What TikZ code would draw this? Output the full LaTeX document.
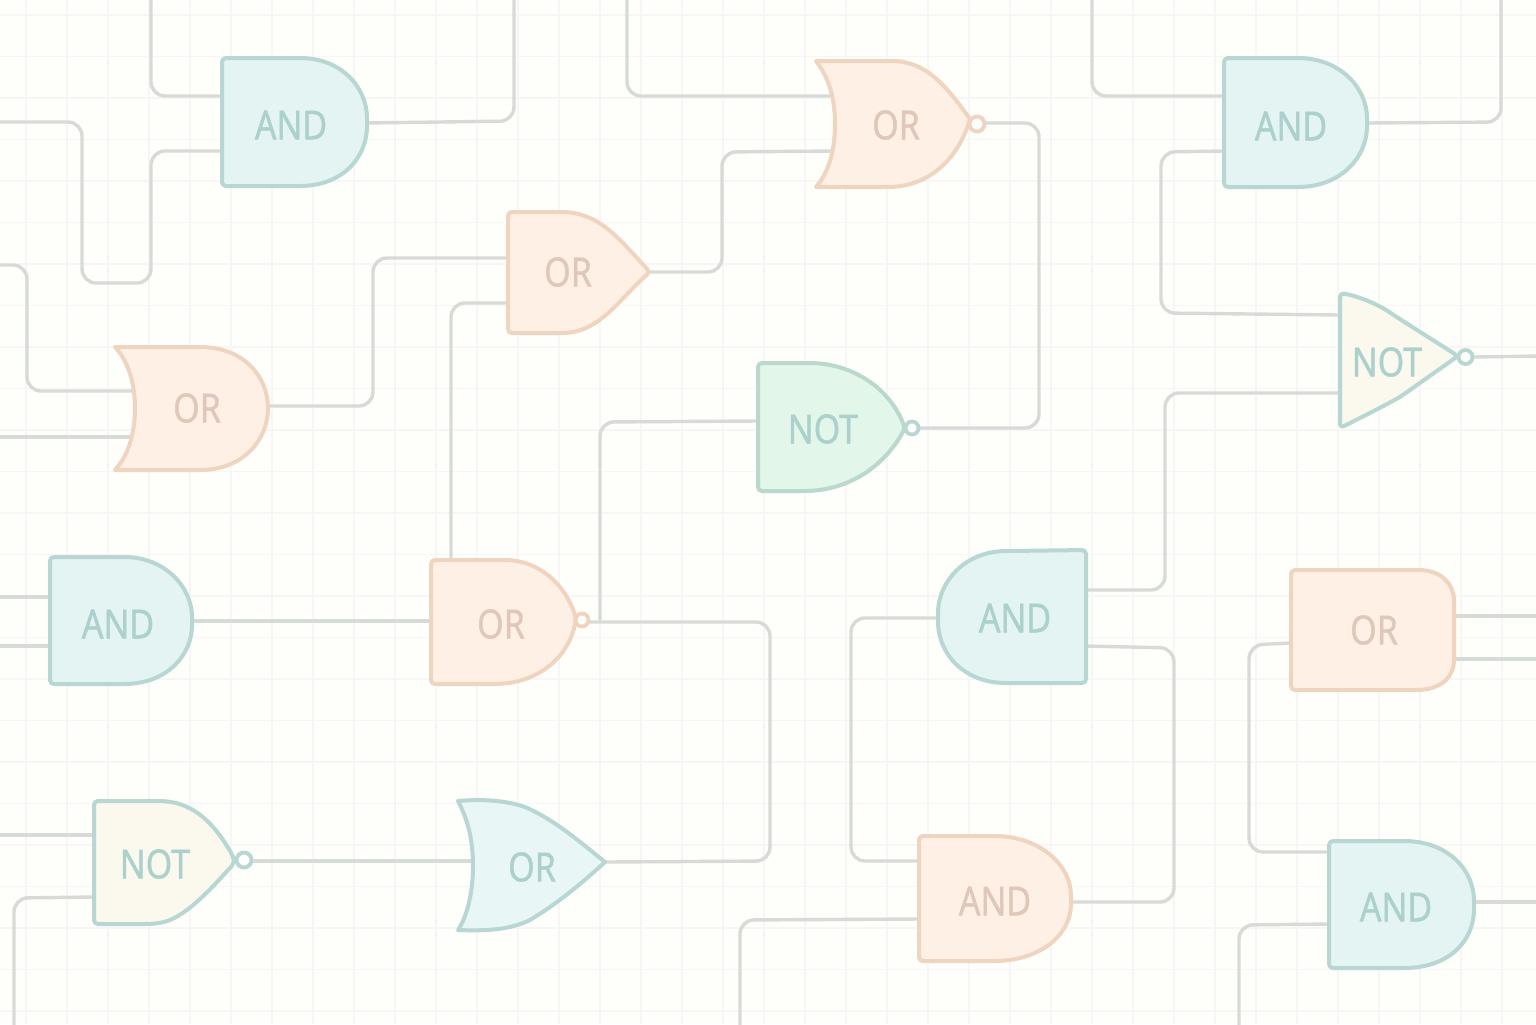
\documentclass[tikz,border=0pt]{standalone}
\usepackage{fontspec}
\setmainfont[FakeStretch=0.85,FakeBold=1]{Noto Sans}
\definecolor{bgc}{HTML}{FEFEFA}
\definecolor{gridc}{HTML}{F8F5F9}
\definecolor{wirec}{HTML}{D7DBD8}
\definecolor{tealf}{HTML}{E3F4F2}
\definecolor{teals}{HTML}{B8D7D3}
\definecolor{peachf}{HTML}{FFF0E6}
\definecolor{peachs}{HTML}{EFD4C0}
\definecolor{creamf}{HTML}{FBF8EE}
\definecolor{greenf}{HTML}{E2F6EA}
\definecolor{greens}{HTML}{BAD8CE}
\definecolor{bluef}{HTML}{E8F6F5}
\definecolor{tealt}{HTML}{ACD1CD}
\definecolor{peacht}{HTML}{DFC8BA}
\tikzset{
  wire/.style={draw=wirec,line width=1.7pt,rounded corners=7pt,line cap=round},
  gridline/.style={draw=gridc,line width=0.55pt},
  gatebase/.style={line width=2pt,rounded corners=2pt,line join=round},
  gteal/.style={gatebase,fill=tealf,draw=teals},
  gpeach/.style={gatebase,fill=peachf,draw=peachs},
  gcream/.style={gatebase,fill=creamf,draw=teals},
  ggreen/.style={gatebase,fill=greenf,draw=greens},
  gblue/.style={gatebase,fill=bluef,draw=teals},
  bubp/.style={line width=1.9pt,fill=bgc,draw=peachs},
  bubt/.style={line width=1.9pt,fill=bgc,draw=teals},
  labt/.style={text=tealt,font=\fontsize{20}{24}\selectfont,inner sep=0pt},
  labp/.style={text=peacht,font=\fontsize{20}{24}\selectfont,inner sep=0pt},
}
\begin{document}
\begin{tikzpicture}[x=0.5pt,y=-0.5pt]
\useasboundingbox (0,0) rectangle (1536,1024);
\fill[bgc] (0,0) rectangle (1536,1024);
% grid
\foreach \k in {0,...,36} \draw[gridline] ({26+41*\k},0) -- ({26+41*\k},1024);
\foreach \k in {0,...,24} \draw[gridline] (0,{15+41.5*\k}) -- (1536,{15+41.5*\k});
% ports
\coordinate (t1) at (151,-4);
\coordinate (t2) at (514,-4);
\coordinate (t3) at (627,-4);
\coordinate (t4) at (1092,-4);
\coordinate (t5) at (1501,-4);
\coordinate (l1) at (-4,122);
\coordinate (l2) at (-4,265);
\coordinate (l3) at (-4,437);
\coordinate (l4) at (-4,597);
\coordinate (l5) at (-4,646);
\coordinate (l6) at (-4,835);
\coordinate (b1) at (14,1028);
\coordinate (b2) at (740,1028);
\coordinate (b3) at (1239,1028);
\coordinate (r1) at (1540,356);
\coordinate (r2) at (1540,616);
\coordinate (r3) at (1540,659);
\coordinate (r4) at (1540,902);
\coordinate (a1a) at (222,96);
\coordinate (a1b) at (222,151);
\coordinate (a1o) at (367,123);
\coordinate (o2a) at (835,96);
\coordinate (o2b) at (835,151);
\coordinate (o2o) at (985,123);
\coordinate (a3a) at (1224,96);
\coordinate (a3b) at (1224,151);
\coordinate (a3o) at (1367,123);
\coordinate (o4a) at (508,258);
\coordinate (o4b) at (508,303);
\coordinate (o4o) at (650,272);
\coordinate (o5a) at (133,391);
\coordinate (o5b) at (133,437);
\coordinate (o5o) at (268,406);
\coordinate (n6a) at (758,421);
\coordinate (n6o) at (919,428);
\coordinate (n7a) at (1340,315);
\coordinate (n7b) at (1340,393);
\coordinate (n7o) at (1473,357);
\coordinate (a8a) at (50,597);
\coordinate (a8b) at (50,646);
\coordinate (a8o) at (192,621);
\coordinate (o9a) at (431,621);
\coordinate (o9t) at (451,560);
\coordinate (o9u) at (600,620);
\coordinate (o9o) at (590,622);
\coordinate (a10a) at (938,618);
\coordinate (a10o) at (1086,590);
\coordinate (a10p) at (1086,646);
\coordinate (o11a) at (1291,643);
\coordinate (o11o) at (1454,616);
\coordinate (o11p) at (1454,659);
\coordinate (n12a) at (94,835);
\coordinate (n12b) at (94,897);
\coordinate (n12o) at (252,861);
\coordinate (o13a) at (472,861);
\coordinate (o13o) at (605,862);
\coordinate (a14a) at (919,861);
\coordinate (a14b) at (919,919);
\coordinate (a14o) at (1071,902);
\coordinate (a15a) at (1329,852);
\coordinate (a15b) at (1329,924);
\coordinate (a15o) at (1474,902);
% connectors
\draw[wire] (t1) -- (151,96) -- (a1a);
\draw[wire] (l1) -- (82,122) -- (82,283) -- (151,283) -- (151,151) -- (a1b);
\draw[wire] (a1o) -- (514,121) -- (t2);
\draw[wire] (t3) -- (627,96) -- (o2a);
\draw[wire] (o4o) -- (722,272) -- (722,152) -- (o2b);
\draw[wire] (o2o) -- (1039,123) -- (1039,428) -- (n6o);
\draw[wire] (t4) -- (1092,96) -- (a3a);
\draw[wire] (a3o) -- (1501,122) -- (t5);
\draw[wire] (a3b) -- (1161,152) -- (1161,313) -- (n7a);
\draw[wire] (n7b) -- (1165,393) -- (1165,590) -- (a10o);
\draw[wire] (n7o) -- (r1);
\draw[wire] (l2) -- (27,265) -- (27,391) -- (o5a);
\draw[wire] (l3) -- (o5b);
\draw[wire] (o5o) -- (373,406) -- (373,258) -- (o4a);
\draw[wire] (o4b) -- (451,303) -- (o9t);
\draw[wire] (n6a) -- (600,422) -- (o9u);
\draw[wire] (l4) -- (a8a);
\draw[wire] (l5) -- (a8b);
\draw[wire] (a8o) -- (o9a);
\draw[wire] (o9o) -- (770,622) -- (770,861) -- (o13o);
\draw[wire] (a10a) -- (851,618) -- (851,861) -- (a14a);
\draw[wire] (a10p) -- (1174,648) -- (1174,902) -- (a14o);
\draw[wire] (o11o) -- (r2);
\draw[wire] (o11p) -- (r3);
\draw[wire] (o11a) -- (1249,645) -- (1249,852) -- (a15a);
\draw[wire] (a15b) -- (1239,925) -- (b3);
\draw[wire] (a15o) -- (r4);
\draw[wire] (l6) -- (n12a);
\draw[wire] (n12b) -- (14,898) -- (b1);
\draw[wire] (n12o) -- (o13a);
\draw[wire] (a14b) -- (740,920) -- (b2);
% gates
\draw[gteal] (222,58) -- (296,58) .. controls (342,58) and (367,88) .. (367,122) .. controls (367,158) and (342,186) .. (296,186) -- (222,186) -- cycle;
\draw[bubp] (977,124) circle (7.5);
\draw[gpeach,sharp corners] (816,61) -- (892,61) .. controls (925,61) and (945,84) .. (970,119) .. controls (958,160) and (928,187) .. (888,187) -- (816,187) .. controls (829,172) and (835,150) .. (835,124) .. controls (835,98) and (829,78) .. (816,61) -- cycle;
\draw[gteal] (1224,58) -- (1294,58) .. controls (1340,58) and (1367,88) .. (1367,122) .. controls (1367,158) and (1340,187) .. (1294,187) -- (1224,187) -- cycle;
\draw[gpeach] (508,212) -- (560,212) .. controls (600,213) and (620,240) .. (650,272) .. controls (620,298) and (600,333) .. (558,333) -- (508,333) -- cycle;
\draw[gpeach,sharp corners] (115,347) -- (200,347) .. controls (245,347) and (268,378) .. (268,408) .. controls (268,440) and (243,470) .. (200,470) -- (115,470) .. controls (129,455) and (135,432) .. (135,408) .. controls (135,385) and (129,362) .. (115,347) -- cycle;
\draw[bubt] (912,428) circle (6.5);
\draw[ggreen] (758,363) -- (812,363) .. controls (850,365) and (888,385) .. (905,428) .. controls (885,465) and (850,491) .. (800,491) -- (758,491) -- cycle;
\draw[bubt] (1465.5,357) circle (7);
\draw[gcream] (1340,293) .. controls (1358,296) and (1378,304) .. (1395,316) -- (1458,356) -- (1400,397) .. controls (1380,408) and (1360,418) .. (1340,428) -- cycle;
\draw[gteal] (50,557) -- (120,557) .. controls (166,557) and (192,588) .. (192,621) .. controls (192,656) and (166,684) .. (120,684) -- (50,684) -- cycle;
\draw[bubp] (582,620) circle (6.5);
\draw[gpeach] (431,560) -- (500,560) .. controls (540,560) and (565,585) .. (576,618) .. controls (570,655) and (540,684) .. (490,684) -- (431,684) -- cycle;
\draw[gteal] (1086,550) -- (1010,551) .. controls (965,551) and (938,582) .. (938,617) .. controls (938,655) and (965,683) .. (1010,683) -- (1086,683) -- cycle;
\draw[gpeach] (1291,570) -- (1415,570) .. controls (1442,570) and (1454,585) .. (1454,605) -- (1454,655) .. controls (1454,678) and (1440,690) .. (1412,690) -- (1291,690) -- cycle;
\draw[bubt] (244,860) circle (7.5);
\draw[gcream] (94,801) -- (160,801) .. controls (195,803) and (215,825) .. (233,856) .. controls (234,862) and (232,866) .. (228,870) .. controls (210,890) and (195,905) .. (178,916) .. controls (165,923) and (155,924) .. (140,924) -- (94,924) -- cycle;
\draw[gblue,sharp corners] (458,801) .. controls (480,799) and (505,800) .. (525,807) .. controls (555,820) and (580,842) .. (605,862) .. controls (580,885) and (555,905) .. (530,920) .. controls (510,930) and (485,931) .. (458,930) .. controls (468,915) and (473,890) .. (473,866) .. controls (473,840) and (468,820) .. (458,801) -- cycle;
\draw[gpeach] (919,836) -- (990,836) .. controls (1040,836) and (1071,865) .. (1071,900) .. controls (1071,935) and (1040,961) .. (990,961) -- (919,961) -- cycle;
\draw[gteal] (1329,841) -- (1400,841) .. controls (1448,841) and (1474,870) .. (1474,905) .. controls (1474,942) and (1448,968) .. (1400,968) -- (1329,968) -- cycle;
% labels
\node[labt] (t-a1) at (291,125) {AND};
\node[labp] (t-o2) at (896,125) {OR};
\node[labt] (t-a3) at (1291,126) {AND};
\node[labp] (t-o4) at (568,272) {OR};
\node[labp] (t-o5) at (197,408) {OR};
\node[labt] (t-n6) at (823,429) {NOT};
\node[labt] (t-n7) at (1387,362) {NOT};
\node[labt] (t-a8) at (118,624) {AND};
\node[labp] (t-o9) at (501,624) {OR};
\node[labt] (t-a10) at (1015,618) {AND};
\node[labp] (t-o11) at (1374,630) {OR};
\node[labt] (t-n12) at (155,864) {NOT};
\node[labt] (t-o13) at (532,867) {OR};
\node[labp] (t-a14) at (995,901) {AND};
\node[labt] (t-a15) at (1396,907) {AND};
\end{tikzpicture}
\end{document}
